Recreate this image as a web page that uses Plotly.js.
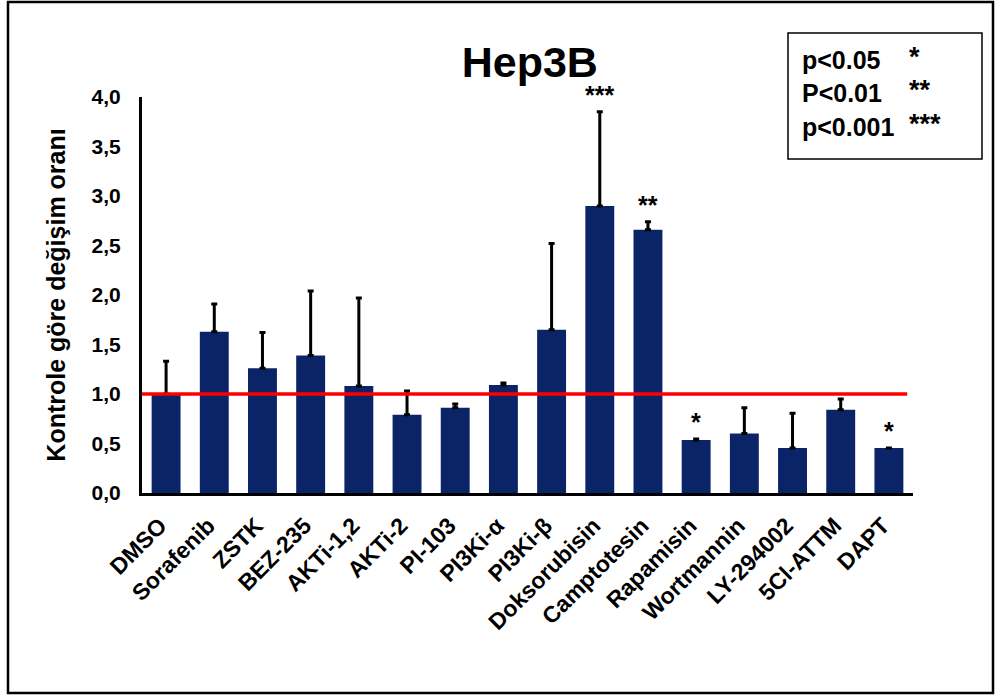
<!DOCTYPE html>
<html>
<head>
<meta charset="utf-8">
<script src="https://cdn.plot.ly/plotly-3.0.1.min.js"></script>
<style>html,body{margin:0;padding:0;background:#fff;}#chart{width:998px;height:698px;}</style>
</head>
<body>
<div id="chart"></div>
<script>
const categories = ["DMSO","Sorafenib","ZSTK","BEZ-235","AKTi-1,2","AKTi-2","PI-103","PI3Ki-α","PI3Ki-β","Doksorubisin","Camptotesin","Rapamisin","Wortmannin","LY-294002","5Cl-ATTM","DAPT"];
const values = [1.0, 1.63, 1.26, 1.39, 1.08, 0.79, 0.86, 1.09, 1.65, 2.90, 2.66, 0.535, 0.60, 0.455, 0.84, 0.455];
const errors = [0.33, 0.28, 0.36, 0.65, 0.89, 0.24, 0.04, 0.02, 0.87, 0.95, 0.08, 0.01, 0.26, 0.35, 0.11, null];
const significance = ["","","","","","","","","","***","**","*","","","","*"];
const controlLevel = 1.0;
const legendLabels = ["p<0.05","P<0.01","p<0.001"];
const legendStars = ["*","**","***"];

const FONT = "Arial, 'Liberation Sans', sans-serif";

const trace = {
  type: "bar",
  x: categories,
  y: values,
  marker: {color: "#0b2468"},
  width: 0.6,
  error_y: {type: "data", array: errors, symmetric: false, arrayminus: errors.map(()=>0), color: "#000", thickness: 3, width: 3},
  hoverinfo: "skip"
};

const annotations = [];
categories.forEach((c, i) => {
  if (significance[i]) {
    annotations.push({
      x: c, y: values[i] + (errors[i] || 0), xref: "x", yref: "y",
      text: "<b>" + significance[i] + "</b>", showarrow: false,
      yanchor: "bottom", yshift: 1,
      font: {family: FONT, size: 25, color: "#000"}
    });
  }
});
const rowY = [60, 93, 127];
legendLabels.forEach((t, i) => {
  annotations.push({
    xref: "paper", yref: "paper",
    x: (800 - 142) / 771, y: (493 - rowY[i]) / 396,
    text: "<b>" + t + "</b>", showarrow: false, xanchor: "left", yanchor: "middle",
    font: {family: FONT, size: 25, color: "#000"}
  });
  annotations.push({
    xref: "paper", yref: "paper",
    x: (907 - 142) / 771, y: (493 - rowY[i]) / 396 + 0.008,
    text: "<b>" + legendStars[i] + "</b>", showarrow: false, xanchor: "left", yanchor: "middle",
    font: {family: FONT, size: 27, color: "#000"}
  });
});

const layout = {
  width: 998, height: 698,
  margin: {l: 142, r: 85, t: 97, b: 205},
  paper_bgcolor: "#fff", plot_bgcolor: "#fff",
  showlegend: false,
  separators: ", ",
  title: {
    text: "<b>Hep3B</b>", xref: "paper", x: 0.503, xanchor: "center",
    yref: "container", y: 1 - 62/698, yanchor: "middle",
    font: {family: FONT, size: 43, color: "#000"}
  },
  xaxis: {
    type: "category",
    tickangle: -45,
    showgrid: false, zeroline: false,
    showline: true, linecolor: "#000", linewidth: 3,
    ticks: "",
    ticklabelstandoff: 7,
    ticklabelshift: -6,
    tickfont: {family: FONT, size: 23, color: "#000", weight: "bold"},
    range: [-0.5, 15.5]
  },
  yaxis: {
    range: [0, 4],
    dtick: 0.5, tickformat: ".1f",
    showgrid: false, zeroline: false,
    showline: true, linecolor: "#000", linewidth: 3,
    ticks: "",
    ticklabelstandoff: 14,
    tickfont: {family: FONT, size: 21, color: "#000", weight: "bold"},
    title: {text: "<b>Kontrole göre değişim oranı</b>", standoff: 19,
      font: {family: FONT, size: 25, color: "#000"}}
  },
  shapes: [
    {type: "line", xref: "x", yref: "y", x0: -0.5, x1: 15.38, y0: controlLevel, y1: controlLevel,
      line: {color: "#ff0000", width: 3.5}, layer: "above"},
    {type: "rect", xref: "paper", yref: "paper",
      x0: (788-142)/771, x1: (982-142)/771, y0: (493-159)/396, y1: (493-33)/396,
      line: {color: "#000", width: 1.5}, fillcolor: "rgba(0,0,0,0)"},
    {type: "rect", xref: "paper", yref: "paper",
      x0: (8-142)/771, x1: (993-142)/771, y0: (493-693)/396, y1: (493-2)/396,
      line: {color: "#000", width: 2.5}, fillcolor: "rgba(0,0,0,0)"}
  ],
  annotations: annotations
};

Plotly.newPlot("chart", [trace], layout, {displayModeBar: false, staticPlot: true});
</script>
</body>
</html>
